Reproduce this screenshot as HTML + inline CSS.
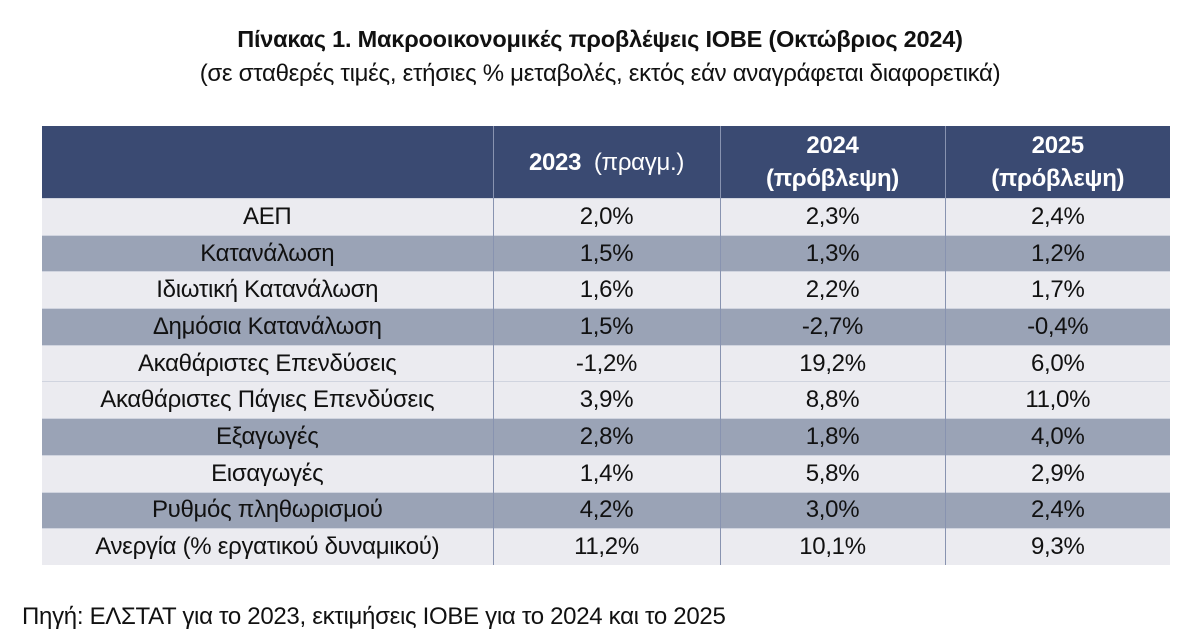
<!DOCTYPE html>
<html><head><meta charset="utf-8"><style>
body{margin:0;width:1200px;height:641px;background:#fff;font-family:"Liberation Sans","DejaVu Sans",sans-serif;color:#111;position:relative;overflow:hidden}
.t{position:absolute;left:0;width:1200px;text-align:center;white-space:nowrap}
#title{top:26px;font-size:23.5px;font-weight:bold;letter-spacing:-0.2px}
#sub{top:60px;font-size:24px;letter-spacing:-0.3px}
table{position:absolute;left:42px;top:126px;border-collapse:collapse;width:1128px;font-size:24px;letter-spacing:-0.3px}
td,th{text-align:center;padding:0;border-left:1px solid #8893b0;white-space:nowrap}
td:first-child,th:first-child{border-left:none}
th{background:#3a4a72;color:#fff;height:72px;font-size:24px;font-weight:bold;line-height:33px}
tr.r td{height:35.7px;border-top:1px solid #d0d4df}
tr.l td{background:#ebebf0}
tr.d td{background:#9aa3b6}
#src{position:absolute;left:22px;top:603px;font-size:24px;letter-spacing:-0.3px;white-space:nowrap}
</style></head><body>
<div class="t" id="title">Πίνακας 1. Μακροοικονομικές προβλέψεις ΙΟΒΕ (Οκτώβριος 2024)</div>
<div class="t" id="sub">(σε σταθερές τιμές, ετήσιες % μεταβολές, εκτός εάν αναγράφεται διαφορετικά)</div>
<table>
<colgroup><col style="width:451px"><col style="width:227px"><col style="width:225px"><col style="width:225px"></colgroup>
<tr><th></th><th>2023 <span style="font-weight:normal">&nbsp;(πραγμ.)</span></th><th>2024<br>(πρόβλεψη)</th><th>2025<br>(πρόβλεψη)</th></tr>
<tr class="r l"><td>ΑΕΠ</td><td>2,0%</td><td>2,3%</td><td>2,4%</td></tr>
<tr class="r d"><td>Κατανάλωση</td><td>1,5%</td><td>1,3%</td><td>1,2%</td></tr>
<tr class="r l"><td>Ιδιωτική Κατανάλωση</td><td>1,6%</td><td>2,2%</td><td>1,7%</td></tr>
<tr class="r d"><td>Δημόσια Κατανάλωση</td><td>1,5%</td><td>-2,7%</td><td>-0,4%</td></tr>
<tr class="r l"><td>Ακαθάριστες Επενδύσεις</td><td>-1,2%</td><td>19,2%</td><td>6,0%</td></tr>
<tr class="r l"><td>Ακαθάριστες Πάγιες Επενδύσεις</td><td>3,9%</td><td>8,8%</td><td>11,0%</td></tr>
<tr class="r d"><td>Εξαγωγές</td><td>2,8%</td><td>1,8%</td><td>4,0%</td></tr>
<tr class="r l"><td>Εισαγωγές</td><td>1,4%</td><td>5,8%</td><td>2,9%</td></tr>
<tr class="r d"><td>Ρυθμός πληθωρισμού</td><td>4,2%</td><td>3,0%</td><td>2,4%</td></tr>
<tr class="r l"><td>Ανεργία (% εργατικού δυναμικού)</td><td>11,2%</td><td>10,1%</td><td>9,3%</td></tr>
</table>
<div id="src">Πηγή: ΕΛΣΤΑΤ για το 2023, εκτιμήσεις ΙΟΒΕ για το 2024 και το 2025</div>
</body></html>
